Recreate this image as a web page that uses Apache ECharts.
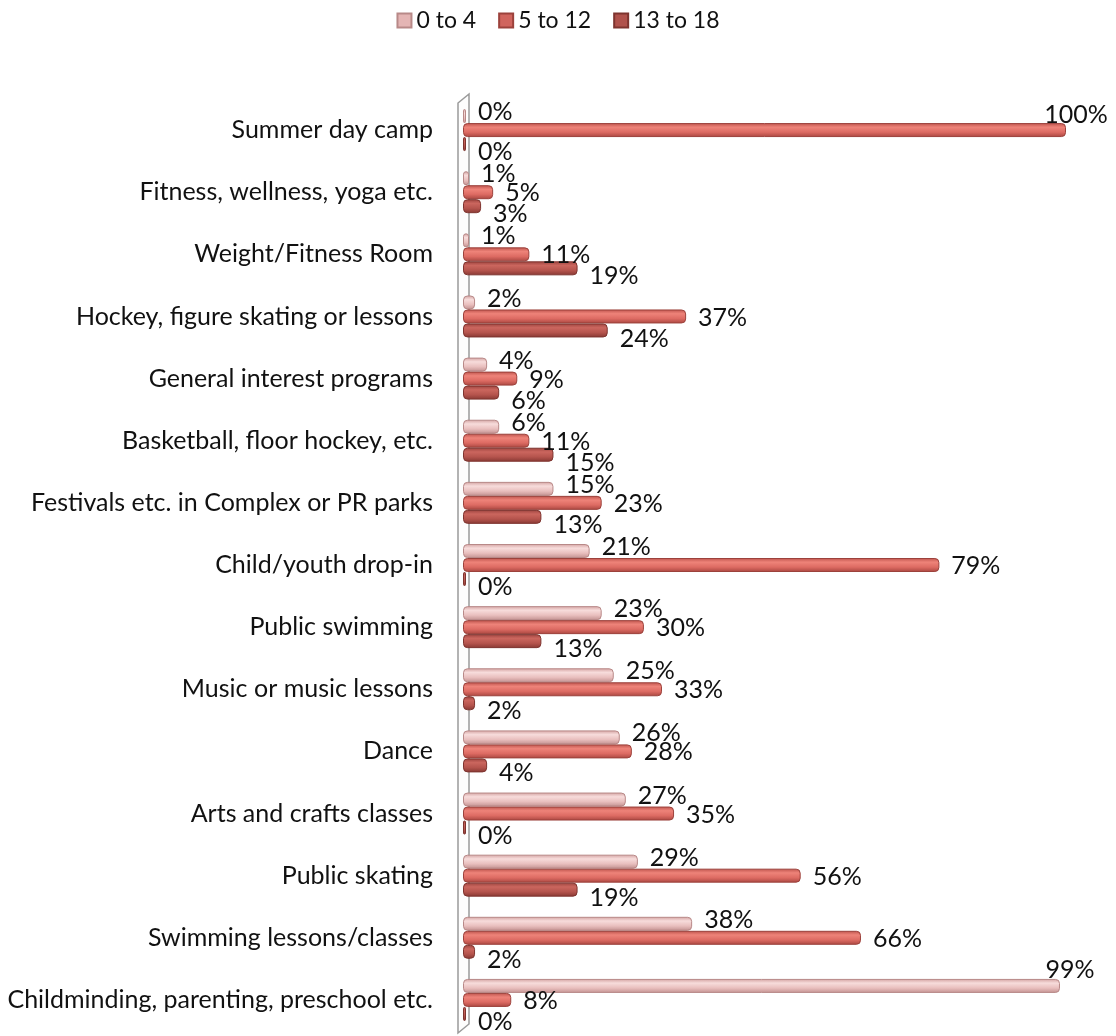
<!DOCTYPE html>
<html>
<head>
<meta charset="utf-8">
<script src="https://cdn.jsdelivr.net/npm/echarts@6/dist/echarts.min.js"></script>
<style>
  html, body { margin: 0; padding: 0; background: #fff; }
  #chart { width: 1116px; height: 1036px; }
</style>
</head>
<body>
<div id="chart"></div>
<script>
// Activities, listed top to bottom
const categories = [
  'Summer day camp',
  'Fitness, wellness, yoga etc.',
  'Weight/Fitness Room',
  'Hockey, figure skating or lessons',
  'General interest programs',
  'Basketball, floor hockey, etc.',
  'Festivals etc. in Complex or PR parks',
  'Child/youth drop-in',
  'Public swimming',
  'Music or music lessons',
  'Dance',
  'Arts and crafts classes',
  'Public skating',
  'Swimming lessons/classes',
  'Childminding, parenting, preschool etc.'
];

// Share per age group (%), same order as categories
const age0to4   = [0, 1, 1, 2, 4, 6, 15, 21, 23, 25, 26, 27, 29, 38, 99];
const age5to12  = [100, 5, 11, 37, 9, 11, 23, 79, 30, 33, 28, 35, 56, 66, 8];
const age13to18 = [0, 3, 19, 24, 6, 15, 13, 0, 13, 2, 4, 0, 19, 2, 0];

const seriesNames = ['0 to 4', '5 to 12', '13 to 18'];

const FONT = 'Lato, "Open Sans", sans-serif';

// Cylinder-like shading across each bar's thickness
function shade(edge, light, mid, dark) {
  return {
    type: 'linear', x: 0, y: 0, x2: 0, y2: 1,
    colorStops: [
      { offset: 0, color: edge },
      { offset: 0.3, color: light },
      { offset: 0.65, color: mid },
      { offset: 1, color: dark }
    ]
  };
}

const palette = [
  { flat: '#e4b5b4', fill: shade('#d3a2a1', '#f7dcdb', '#e9bfbe', '#c29190'), border: '#b88988', dy: -4 },
  { flat: '#d0655e', fill: shade('#bd534c', '#ee8379', '#dd6b63', '#a94640'), border: '#9c423c', dy: 1 },
  { flat: '#b0524c', fill: shade('#9c433e', '#cb665e', '#b5544d', '#873833'), border: '#7e342f', dy: 8 }
];

const valueSets = [age0to4, age5to12, age13to18];

// Bars that nearly fill the plot carry their label above the bar end
function buildData(values) {
  return values.map(v => v >= 95
    ? { value: v, label: { position: ['100%', 0], align: 'center', verticalAlign: 'bottom', offset: [10, 4] } }
    : v);
}

const chart = echarts.init(document.getElementById('chart'), null, { renderer: 'canvas' });

const GRID = { left: 463, right: 50, top: 99, bottom: 5 };

chart.setOption({
  backgroundColor: '#fff',
  animation: false,
  legend: {
    top: 4,
    left: 'center',
    itemWidth: 14,
    itemHeight: 14,
    itemGap: 22,
    icon: 'rect',
    textStyle: { fontFamily: FONT, fontSize: 23, color: '#111' },
    data: seriesNames.map((n, i) => ({ name: n, itemStyle: { color: palette[i].flat } }))
  },
  grid: GRID,
  xAxis: {
    type: 'value',
    min: 0,
    max: 100,
    show: false
  },
  yAxis: {
    type: 'category',
    inverse: true,
    data: categories,
    axisLine: { show: false },
    axisTick: { show: false },
    axisLabel: { fontFamily: FONT, fontSize: 25, color: '#111', margin: 30 }
  },
  series: seriesNames.map((name, i) => ({
    name,
    type: 'bar',
    data: buildData(valueSets[i]),
    barWidth: 14,
    barGap: '0%',
    barMinHeight: 3,
    itemStyle: {
      color: palette[i].fill,
      borderColor: palette[i].border,
      borderWidth: 1,
      borderRadius: 4
    },
    label: {
      show: true,
      position: 'right',
      distance: 12,
      offset: [0, palette[i].dy],
      formatter: '{c}%',
      fontFamily: FONT,
      fontSize: 25,
      color: '#111'
    }
  }))
});

// Side wall of the plot drawn as a thin slanted slab
function drawWall() {
  const x0 = chart.convertToPixel({ xAxisIndex: 0 }, 0);
  const top = GRID.top;
  const bottom = 1036 - GRID.bottom;
  chart.setOption({
    graphic: [{
      type: 'polygon',
      z: -1,
      shape: {
        points: [
          [x0 - 5, top + 4],
          [x0 + 6, top - 5],
          [x0 + 6, bottom - 7],
          [x0 - 5, bottom + 2]
        ]
      },
      style: { fill: '#fdfdfd', stroke: '#9a9a9a', lineWidth: 1.5 }
    }]
  });
}
drawWall();
</script>
</body>
</html>
